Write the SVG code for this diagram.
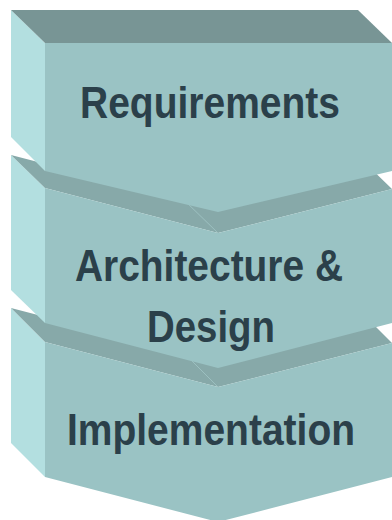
<svg xmlns="http://www.w3.org/2000/svg" width="392" height="520" viewBox="0 0 392 520">
<style>
.front{fill:#9AC3C4}
.left{fill:#B3DFE0}
.top1{fill:#789595}
.top{fill:#87A9A9}
.crease{stroke:#A2C6C6;stroke-width:0.8;fill:none}
.lbl{font-family:"Liberation Sans",Arial,sans-serif;font-weight:bold;font-size:44px;fill:#2B404A;text-anchor:middle}
</style>
<rect width="392" height="520" fill="#FFFFFF"/>
<g id="implementation">
<polygon class="left" points="11,308 45,342 45,477 11,443"/>
<polygon class="top" points="11,308 184,353 358,309 392,343 218,387 45,342"/>
<line class="crease" x1="184" y1="353" x2="218" y2="387"/>
<polygon class="front" points="45,342 218,387 392,343 392,477 218,522 45,477"/>
<text class="lbl" x="211" y="445" textLength="288" lengthAdjust="spacingAndGlyphs">Implementation</text>
</g>
<g id="architecture">
<polygon class="left" points="11,155 45,188 45,323 11,290"/>
<polygon class="top" points="11,155 184,200 358,156 392,189 218,233 45,188"/>
<line class="crease" x1="184" y1="200" x2="218" y2="233"/>
<polygon class="front" points="45,188 218,233 392,189 392,323 218,368 45,323"/>
<text class="lbl" x="209" y="281" textLength="268" lengthAdjust="spacingAndGlyphs">Architecture &amp;</text>
<text class="lbl" x="211" y="342" textLength="128" lengthAdjust="spacingAndGlyphs">Design</text>
</g>
<g id="requirements">
<polygon class="left" points="11,10 45,43 45,171 11,137"/>
<polygon class="top1" points="11,10 358,10 392,43 45,43"/>
<polygon class="front" points="45,43 392,43 392,171 218,212 45,171"/>
<text class="lbl" x="210" y="118" textLength="260" lengthAdjust="spacingAndGlyphs">Requirements</text>
</g>
<g id="connectors"></g>
</svg>
